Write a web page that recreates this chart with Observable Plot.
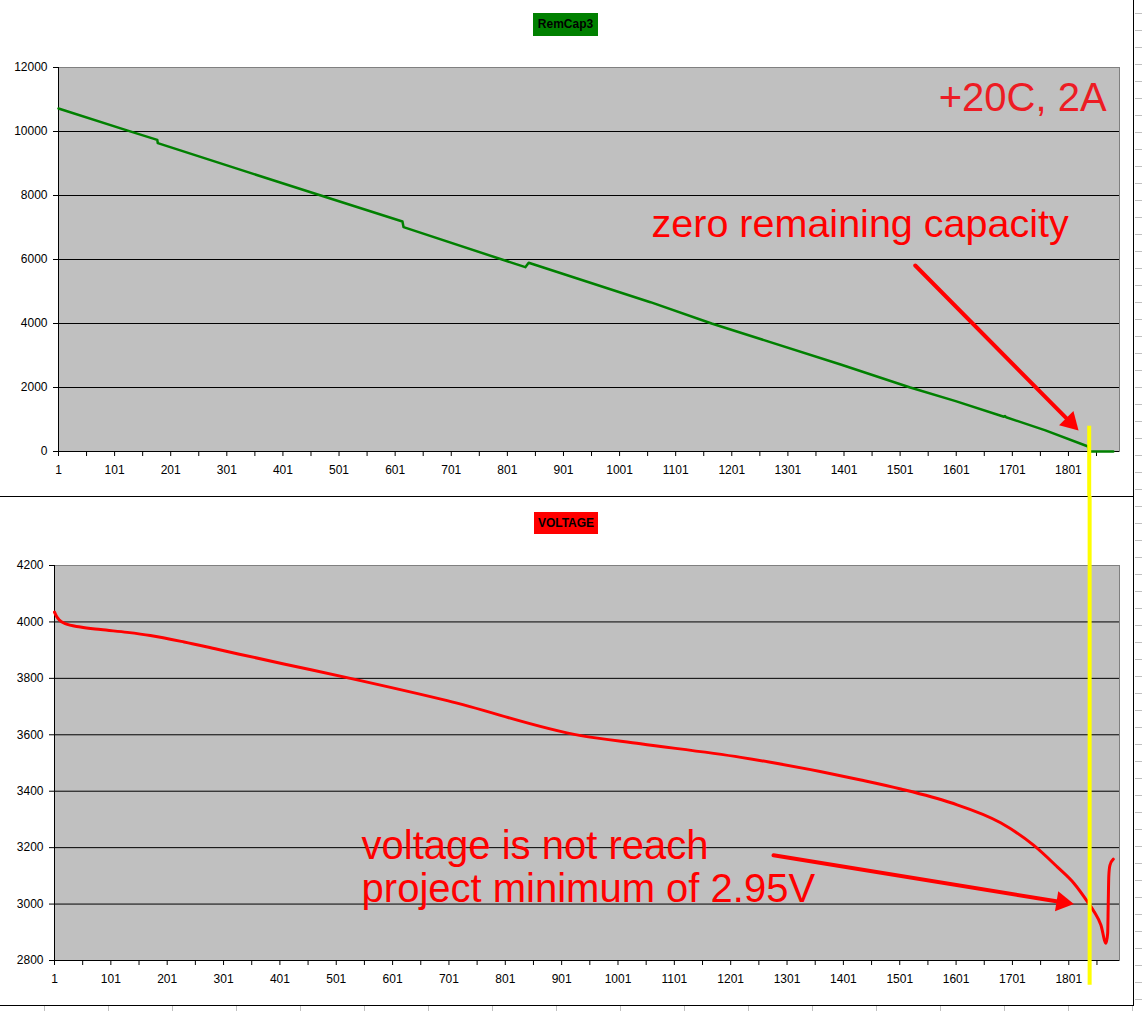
<!DOCTYPE html>
<html>
<head>
<meta charset="utf-8">
<script src="https://cdn.jsdelivr.net/npm/d3@7"></script>
<script src="https://cdn.jsdelivr.net/npm/@observablehq/plot@0.6"></script>
<style>
html, body { margin: 0; padding: 0; background: #fff; }
#wrap { position: relative; width: 1142px; height: 1011px; overflow: hidden; font-family: "Liberation Sans", Arial, sans-serif; }
.hline { position: absolute; left: 0; width: 1133px; height: 1px; background: #000; }
.vline { position: absolute; left: 1133px; top: 0; width: 1px; height: 1006px; background: #000; }
.rows { position: absolute; left: 1135px; top: 0; width: 7px; height: 1011px;
  background: repeating-linear-gradient(to bottom, transparent 0px, transparent 13px, #c0c0c0 13px, #c0c0c0 14px, transparent 14px, transparent 17px); }
.cols { position: absolute; left: 0; top: 1006px; width: 1133px; height: 5px;
  background: repeating-linear-gradient(to right, transparent 0px, transparent 44px, #c0c0c0 44px, #c0c0c0 45px, transparent 45px, transparent 64px); }
.panel { position: absolute; left: 0; }
.title { position: absolute; font: bold 12px "Liberation Sans", Arial, sans-serif; color: #000; text-align: center; z-index: 5; }
</style>
</head>
<body>
<div id="wrap">
  <div class="hline" style="top:496px"></div>
  <div class="hline" style="top:1005px"></div>
  <div class="vline"></div>
  <div class="rows"></div>
  <div class="cols"></div>
  <div id="top" class="panel" style="top:0px"></div>
  <div id="bottom" class="panel" style="top:496px"></div>
  <div class="title" style="left:533px;top:13px;width:65px;height:23px;line-height:23px;background:#008000">RemCap3</div>
  <div class="title" style="left:534px;top:512px;width:64px;height:22px;line-height:22px;background:#ff0000">VOLTAGE</div>
</div>
<script>
// ---- data: RemCap3 (sample index, remaining capacity) ----
const capIndex = [1, 123, 177, 178, 456, 614, 616, 833, 839, 1056, 1165, 1395, 1519, 1600, 1686, 1688, 1690, 1760, 1836, 1838, 1881];
const capValue = [10720, 10035, 9740, 9635, 8070, 7188, 7010, 5760, 5897, 4666, 4000, 2719, 2000, 1575, 1085, 1110, 1070, 660, 156, 0, 0];

// ---- data: VOLTAGE (sample index, mV) ----
const voltIndex = [1, 5, 9, 20, 47, 83, 130, 171, 231, 290, 408, 526, 698, 935, 1041, 1219, 1432, 1503, 1592, 1680, 1739, 1781, 1810, 1834, 1846, 1858, 1867, 1870, 1871, 1872, 1874, 1880];
const voltValue = [4035, 4018, 4008, 3994, 3982, 3973, 3963, 3952, 3929, 3903, 3851, 3800, 3721, 3597, 3568, 3520, 3440, 3408, 3359, 3288, 3208, 3131, 3074, 3009, 2973, 2926, 2861, 2896, 2998, 3099, 3137, 3159];

// ---- tick labels ----
const xTickLabels = [1, 101, 201, 301, 401, 501, 601, 701, 801, 901, 1001, 1101, 1201, 1301, 1401, 1501, 1601, 1701, 1801];
const xMinorTicks = xTickLabels.map(d => d + 50);
const xAllTicks = xTickLabels.concat(xMinorTicks).sort((a, b) => a - b);
const capTicksY = [0, 2000, 4000, 6000, 8000, 10000, 12000];
const capGrid = [2000, 4000, 6000, 8000, 10000];
const voltTicksY = [2800, 3000, 3200, 3400, 3600, 3800, 4000, 4200];
const voltGrid = [3000, 3200, 3400, 3600, 3800, 4000];

// ---- annotations ----
const capNoteCond = [{x: 1869, y: 10656, text: "+20C, 2A"}];
const capNoteZero = [{x: 1058, y: 6697, text: "zero remaining capacity"}];
const capArrow = [{x1: 1528, y1: 5812, x2: 1819, y2: 656}];
const voltNote = [{x: 546, y: 3006, text: "voltage is not reach\nproject minimum of 2.95V"}];
const voltArrow = [{x1: 1277, y1: 3173, x2: 1810, y2: 3000}];
const markerIndex = [1838];

const capData = capIndex.map((x, i) => ({x, y: capValue[i]}));
const voltData = voltIndex.map((x, i) => ({x, y: voltValue[i]}));

const font = "'Liberation Sans', Arial, sans-serif";
const xFmt = d => xTickLabels.includes(d) ? String(d) : "";

const topPlot = Plot.plot({
  width: 1133, height: 496,
  marginLeft: 58, marginRight: 14, marginTop: 67, marginBottom: 45,
  style: {fontFamily: font, fontSize: "12px", background: "transparent", color: "#000"},
  x: {domain: [1, 1892]},
  y: {domain: [0, 12000]},
  marks: [
    Plot.frame({fill: "#c0c0c0", stroke: "none"}),
    Plot.ruleY(capGrid, {stroke: "#000", strokeWidth: 1}),
    Plot.frame({fill: "none", stroke: "#808080"}),
    Plot.ruleX([1], {stroke: "#000"}),
    Plot.ruleY([0], {stroke: "#000"}),
    Plot.axisY({ticks: capTicksY, tickSize: 5, tickPadding: 6, tickFormat: d => String(d), label: null}),
    Plot.axisX({ticks: xAllTicks, tickSize: 5, tickPadding: 9, tickFormat: xFmt, label: null}),
    Plot.line(capData, {x: "x", y: "y", stroke: "#008000", strokeWidth: 2.5}),
    Plot.text(capNoteCond, {x: "x", y: "y", text: "text", textAnchor: "end", lineAnchor: "bottom", fontSize: 40, fill: "#ed1c24"}),
    Plot.text(capNoteZero, {x: "x", y: "y", text: "text", textAnchor: "start", lineAnchor: "bottom", fontSize: 39.5, fill: "#ff0000"}),
    Plot.arrow(capArrow, {x1: "x1", y1: "y1", x2: "x2", y2: "y2", stroke: "#ff0000", strokeWidth: 4, headLength: 0, insetEnd: 10}),
    Plot.dot(capArrow, {x: "x2", y: "y2", symbol: "triangle", r: 7.5, fill: "#ff0000", rotate: 135.3, dx: -8.2, dy: -8.3}),
    Plot.ruleX(markerIndex, {y1: 790, y2: -3000, stroke: "#ffff00", strokeWidth: 4})
  ]
});
document.getElementById("top").appendChild(topPlot);

const bottomPlot = Plot.plot({
  width: 1133, height: 515,
  marginLeft: 54, marginRight: 14, marginTop: 69, marginBottom: 51,
  style: {fontFamily: font, fontSize: "12px", background: "transparent", color: "#000"},
  x: {domain: [1, 1891]},
  y: {domain: [2800, 4200]},
  marks: [
    Plot.frame({fill: "#c0c0c0", stroke: "none"}),
    Plot.ruleY(voltGrid, {stroke: "#000", strokeWidth: 1}),
    Plot.frame({fill: "none", stroke: "#808080"}),
    Plot.ruleX([1], {stroke: "#000"}),
    Plot.ruleY([2800], {stroke: "#000"}),
    Plot.axisY({ticks: voltTicksY, tickSize: 5, tickPadding: 6, tickFormat: d => String(d), label: null}),
    Plot.axisX({ticks: xAllTicks, tickSize: 5, tickPadding: 9, tickFormat: xFmt, label: null}),
    Plot.line(voltData, {x: "x", y: "y", stroke: "#ff0000", strokeWidth: 3, curve: "monotone-x"}),
    Plot.text(voltNote, {x: "x", y: "y", text: "text", textAnchor: "start", lineAnchor: "bottom", lineHeight: 1.083, fontSize: 40, fill: "#ff0000"}),
    Plot.arrow(voltArrow, {x1: "x1", y1: "y1", x2: "x2", y2: "y2", stroke: "#ff0000", strokeWidth: 4, headLength: 0, insetEnd: 10}),
    Plot.dot(voltArrow, {x: "x2", y: "y2", symbol: "triangle", r: 7.5, fill: "#ff0000", rotate: 99.3, dx: -11.5, dy: -1.9}),
    Plot.ruleX(markerIndex, {y1: 5000, y2: 2712, stroke: "#ffff00", strokeWidth: 4})
  ]
});
document.getElementById("bottom").appendChild(bottomPlot);
</script>
</body>
</html>
